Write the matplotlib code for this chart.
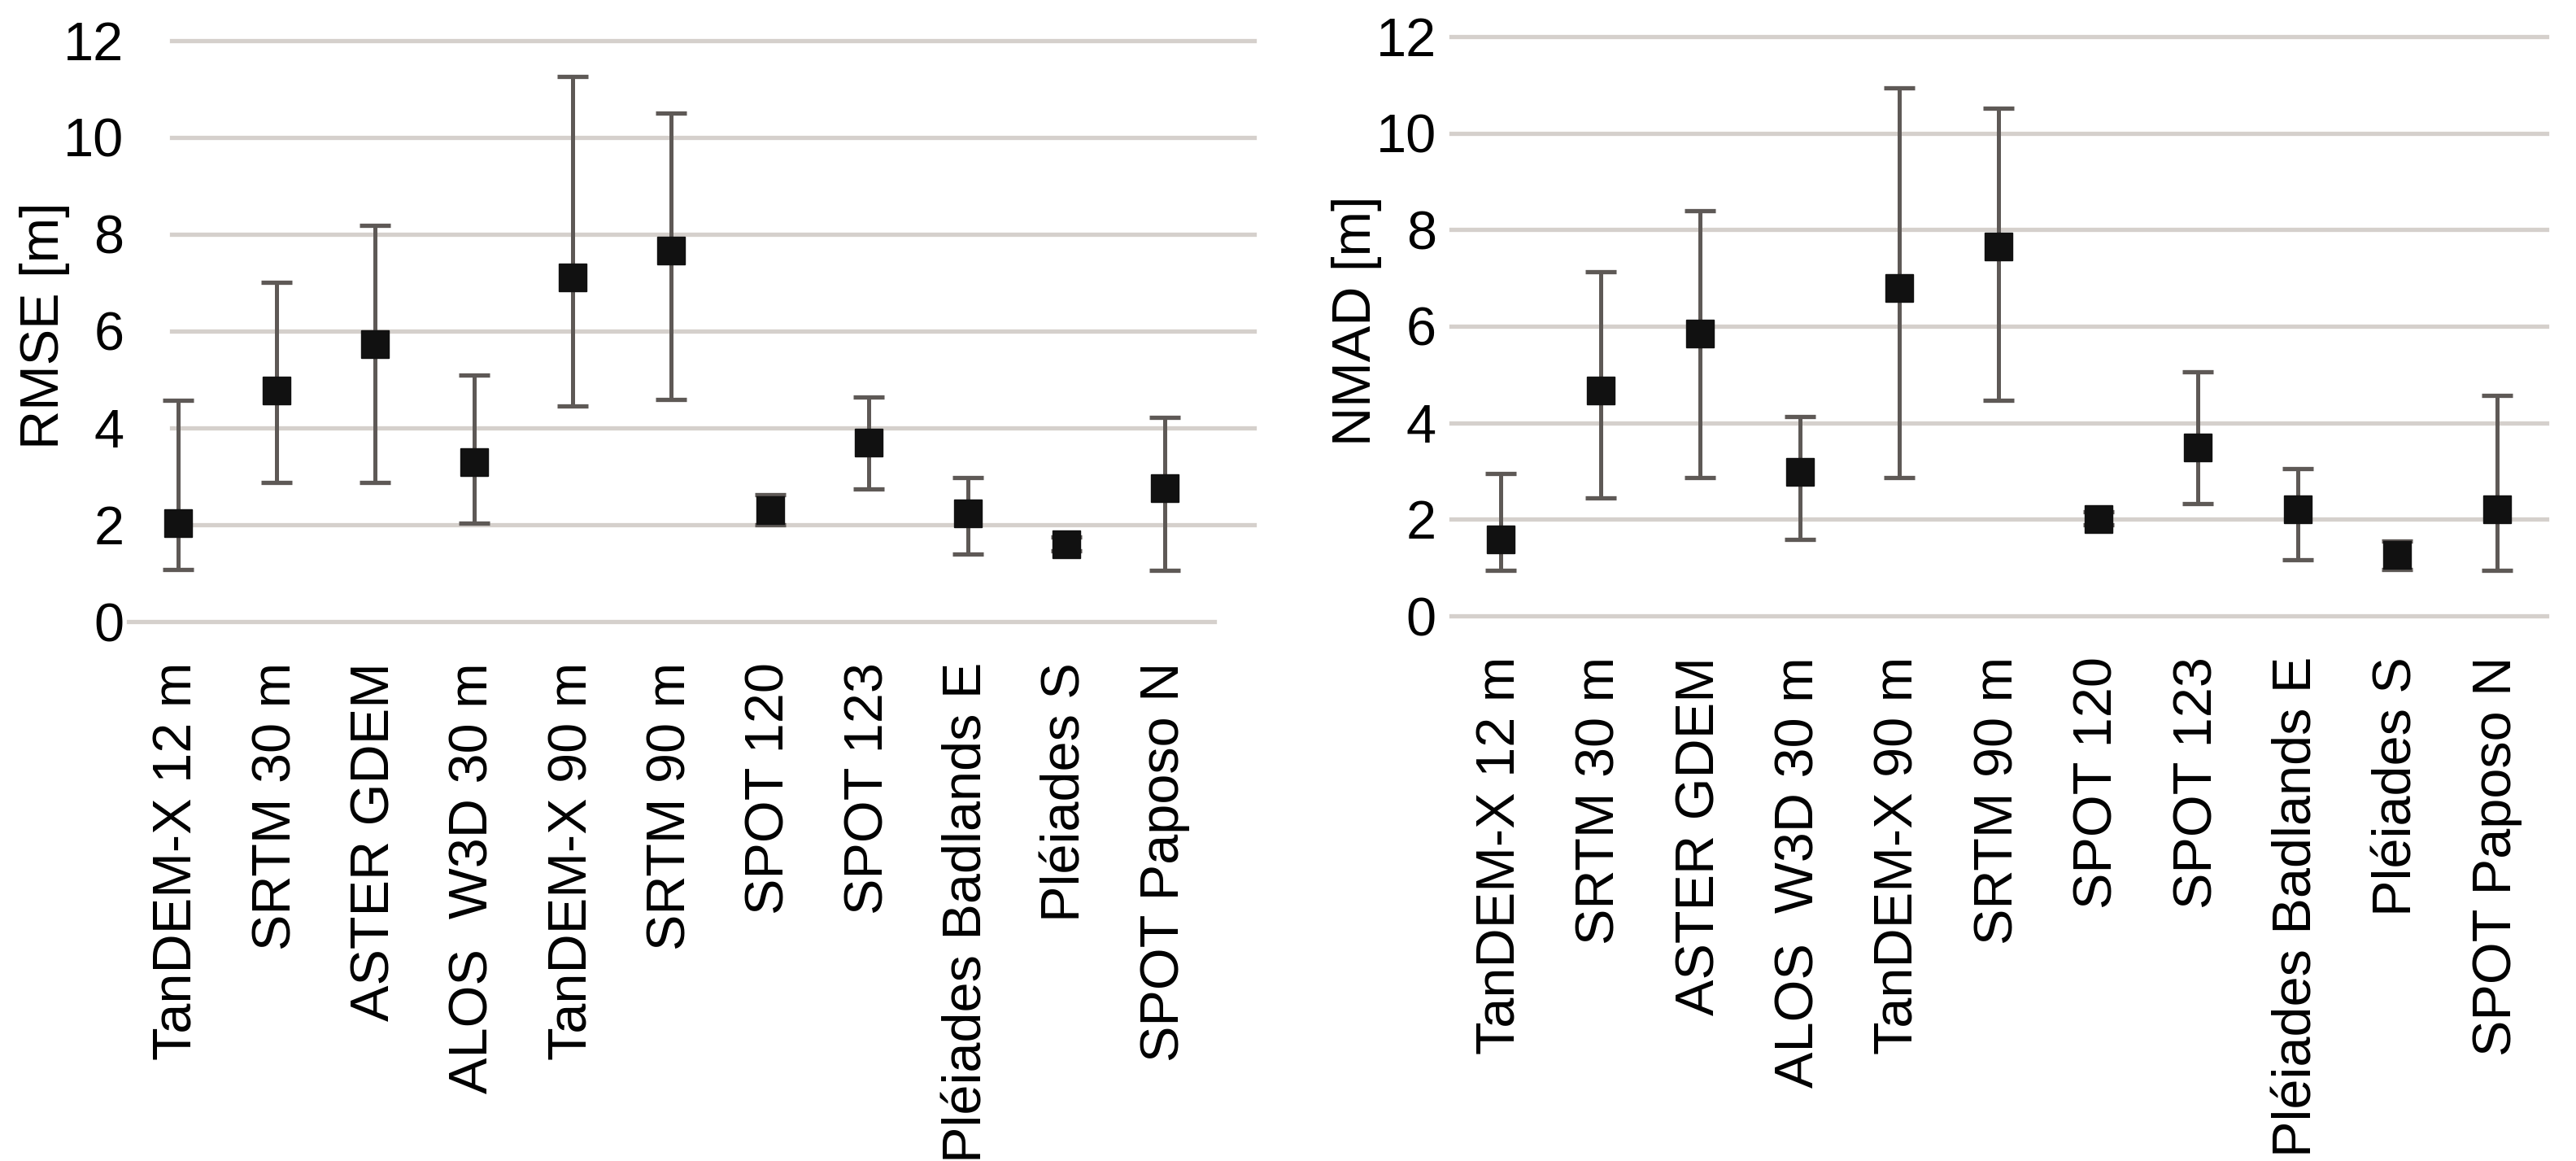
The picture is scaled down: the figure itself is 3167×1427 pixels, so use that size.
import numpy as np
import matplotlib
matplotlib.use('Agg')
from matplotlib import pyplot as plt

plt.rcParams['font.family'] = ['Liberation Sans', 'DejaVu Sans']

# DEM / survey names
names = ['TanDEM-X 12 m', 'SRTM 30 m', 'ASTER GDEM', 'ALOS  W3D 30 m',
         'TanDEM-X 90 m', 'SRTM 90 m', 'SPOT 120', 'SPOT 123',
         'Pléiades Badlands E', 'Pléiades S', 'SPOT Paposo N']

# RMSE [m]: central value, upper and lower whisker
rmse = [2.03, 4.77, 5.73, 3.30, 7.11, 7.66, 2.30, 3.70, 2.23, 1.60, 2.76]
rmse_hi = [4.57, 7.01, 8.18, 5.10, 11.26, 10.50, 2.62, 4.64, 2.98, 1.74, 4.22]
rmse_lo = [1.07, 2.88, 2.88, 2.03, 4.46, 4.58, 2.00, 2.74, 1.39, 1.46, 1.06]

# NMAD [m]
nmad = [1.59, 4.67, 5.84, 2.99, 6.80, 7.65, 2.01, 3.49, 2.21, 1.26, 2.21]
nmad_hi = [2.95, 7.13, 8.39, 4.13, 10.94, 10.51, 2.15, 5.06, 3.05, 1.55, 4.57]
nmad_lo = [0.94, 2.44, 2.87, 1.59, 2.87, 4.47, 1.88, 2.33, 1.16, 0.96, 0.94]

grid_c = '#d5d0cc'
err_c = '#5e5956'
mark_c = '#111111'

fig = plt.figure(figsize=(31.67, 14.27), dpi=100)
ax1 = fig.add_axes([0.0499, 0.4646, 0.4215, 0.5004])
ax2 = fig.add_axes([0.5633, 0.4695, 0.4253, 0.4990])


def draw(ax, vals, hi, lo, ylabel, grid_span, ypad, label_x):
    x = np.arange(len(names))
    vals = np.array(vals)
    err = [vals - np.array(lo), np.array(hi) - vals]
    # gridlines (the 0 line spans the plot area)
    ax.axhline(0, 0, 1, color=grid_c, lw=3.8, zorder=0, clip_on=False)
    for y in range(2, 13, 2):
        ax.axhline(y, grid_span[0], grid_span[1], color=grid_c, lw=3.8,
                   zorder=0, clip_on=False)
    ax.errorbar(x, vals, yerr=err, fmt='none', ecolor=err_c, elinewidth=3.6,
                capsize=13.7, capthick=3.8, zorder=2, clip_on=False)
    ax.plot(x, vals, 's', ms=24.5, color=mark_c, zorder=3, clip_on=False)
    ax.set_xlim(-0.5, len(names) - 0.5)
    ax.set_ylim(0, 12)
    ax.set_yticks(range(0, 13, 2))
    ax.set_xticks(x)
    ax.set_xticklabels(names, rotation=90)
    for s in ax.spines.values():
        s.set_visible(False)
    ax.tick_params(axis='x', length=0, pad=36, labelsize=48)
    ax.tick_params(axis='y', length=0, pad=ypad, labelsize=48)
    ax.set_ylabel(ylabel, fontsize=48)
    ax.yaxis.set_label_coords(label_x, 0.51)


draw(ax1, rmse, rmse_hi, rmse_lo, 'RMSE [m]', (0.040, 1.037), 4, -0.054)
draw(ax2, nmad, nmad_hi, nmad_lo, 'NMAD [m]', (0.0, 1.0), 13, -0.063)

fig.savefig('out.png', dpi=100, facecolor='white')
